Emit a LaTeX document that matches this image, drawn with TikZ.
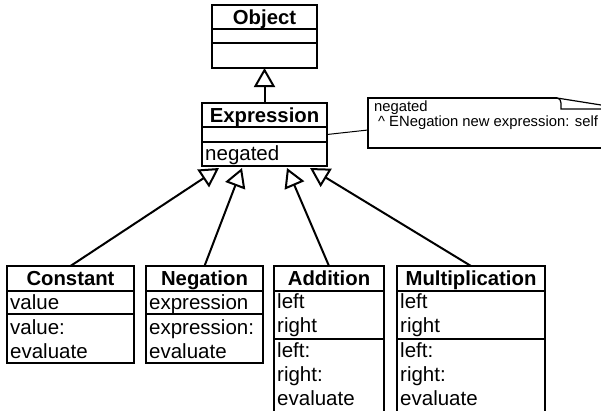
\documentclass[tikz,border=0pt]{standalone}
\usepackage{fontspec}
\setmainfont{Liberation Sans}
\usetikzlibrary{arrows.meta}
\begin{document}
\begin{tikzpicture}[x=1pt,y=-1pt,
  box/.style={draw, line width=1.3pt, inner sep=0pt, outer sep=0pt, anchor=north west},
  sep/.style={line width=1.3pt},
  title/.style={anchor=base, font=\fontsize{20.3}{24}\selectfont\bfseries, inner sep=0pt},
  member/.style={anchor=base west, font=\fontsize{20.5}{24}\selectfont, inner sep=0pt},
  gen/.style={line width=2pt, -{Triangle[open, length=19pt, width=21pt]}},
  notetext/.style={anchor=base west, font=\fontsize{14.8}{16}\selectfont, inner sep=0pt},
  noteline/.style={line width=1.2pt}]
\useasboundingbox (0,0) rectangle (601,410);
\clip (0,0) rectangle (601,410);

% Object
\node[box, minimum width=105pt, minimum height=63pt] (object) at (212,5) {};
\draw[sep] (212,29) -- (317,29);
\draw[sep] (212,43) -- (317,43);
\node[title] (objectT) at (264.5,24) {Object};

% Expression
\node[box, minimum width=125pt, minimum height=63pt] (expression) at (202,103) {};
\draw[sep] (202,127) -- (327,127);
\draw[sep] (202,142) -- (327,142);
\node[title] (expressionT) at (264.5,122) {Expression};
\node[member] (expressionM) at (205,160) {negated};

% Constant
\node[box, minimum width=127pt, minimum height=97pt] (constant) at (7,266) {};
\draw[sep] (7,291) -- (134,291);
\draw[sep] (7,314) -- (134,314);
\node[title] (constantT) at (70.5,285) {Constant};
\node[member] (constantA) at (10,309) {value};
\node[member] (constantM1) at (10,334) {value:};
\node[member] (constantM2) at (10,358) {evaluate};

% Negation
\node[box, minimum width=117pt, minimum height=97pt] (negation) at (146,266) {};
\draw[sep] (146,291) -- (263,291);
\draw[sep] (146,314) -- (263,314);
\node[title] (negationT) at (204.5,285) {Negation};
\node[member] (negationA) at (149,309) {expression};
\node[member] (negationM1) at (149,334) {expression:};
\node[member] (negationM2) at (149,358) {evaluate};

% Addition
\node[box, minimum width=110pt, minimum height=170pt] (addition) at (274,266) {};
\draw[sep] (274,291) -- (384,291);
\draw[sep] (274,339) -- (384,339);
\node[title] (additionT) at (329,285) {Addition};
\node[member] (additionA1) at (277,308) {left};
\node[member] (additionA2) at (277,332) {right};
\node[member] (additionM1) at (277,357) {left:};
\node[member] (additionM2) at (277,381) {right:};
\node[member] (additionM3) at (277,405) {evaluate};

% Multiplication
\node[box, minimum width=148pt, minimum height=170pt] (multiplication) at (397,266) {};
\draw[sep] (397,291) -- (545,291);
\draw[sep] (397,339) -- (545,339);
\node[title] (multiplicationT) at (471,285) {Multiplication};
\node[member] (multiplicationA1) at (400,308) {left};
\node[member] (multiplicationA2) at (400,332) {right};
\node[member] (multiplicationM1) at (400,357) {left:};
\node[member] (multiplicationM2) at (400,381) {right:};
\node[member] (multiplicationM3) at (400,405) {evaluate};

% Generalizations
\coordinate (e1) at ([xshift=17pt,yshift=-2pt]expression.south west);
\coordinate (e2) at ([xshift=40pt,yshift=-2pt]expression.south west);
\coordinate (e3) at ([xshift=85pt,yshift=-2pt]expression.south west);
\coordinate (e4) at ([xshift=108pt,yshift=-2pt]expression.south west);
\draw[gen] (expression.north) -- (object.south);
\draw[gen] (constant.north) -- (e1);
\draw[gen] (negation.north) -- (e2);
\draw[gen] (addition.north) -- (e3);
\draw[gen] (multiplication.north) -- (e4);

% Note
\draw[noteline] (557,98) -- (368,98) -- (368,148) -- (620,148);
\draw[noteline] (557,98) to[out=0,in=90] (561,103) -- (561,109) -- (620,109);
\draw[noteline] (557,98) -- (620,108);
\node[notetext] (note1) at (374,111) {negated};
\node[notetext] (note2) at (378,126) {\textasciicircum\ ENegation new expression: self};
\coordinate (noteL) at (368,130);
\draw[line width=1pt] (expression.east) -- (noteL);
\end{tikzpicture}
\end{document}
